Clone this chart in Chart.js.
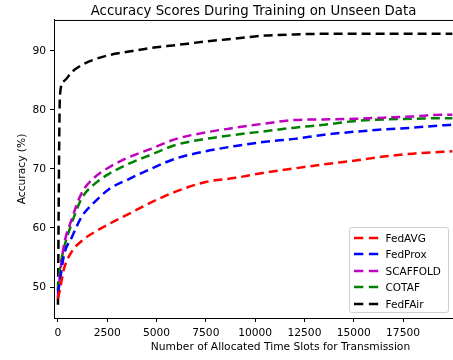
<!DOCTYPE html>
<html>
<head>
<meta charset="utf-8">
<script src="https://cdn.jsdelivr.net/npm/chart.js@4.4.1/dist/chart.umd.min.js"></script>
<style>
  html, body { margin: 0; padding: 0; background: #fff; overflow: hidden; }
  #wrap { position: relative; width: 507px; height: 360px; }
  #legend {
    position: absolute; box-sizing: border-box;
    background: rgba(255,255,255,0.8); border: 1px solid #d0d0d0; border-radius: 3px;
    font-family: "DejaVu Sans", sans-serif; font-size: 10.5px; color: #000;
    padding: 2px 4px 0 4px;
  }
  #legend .row { display: flex; align-items: center; height: 16.5px; white-space: nowrap; }
  #legend svg { margin-right: 7px; flex: none; }
</style>
</head>
<body>
<div id="wrap">
  <canvas id="c" width="507" height="360"></canvas>
  <div id="legend"></div>
</div>
<script>
// ---- data ----
const timeSlots = [0, 100, 300, 700, 1200, 1800, 2600, 3600, 4700, 6000, 7500, 9000, 10500, 12000, 13500, 15000, 16500, 18000, 19500, 20000];
const fedAvg   = [48.0, 49.5, 53.0, 56.0, 57.8, 59.2, 60.7, 62.4, 64.3, 66.2, 67.8, 68.5, 69.4, 70.1, 70.8, 71.4, 72.1, 72.6, 72.9, 73.0];
const fedProx  = [49.0, 51.0, 55.3, 58.4, 61.9, 64.2, 66.6, 68.3, 70.0, 71.8, 73.0, 73.9, 74.6, 75.1, 75.8, 76.3, 76.7, 77.0, 77.4, 77.5];
const scaffold = [48.5, 52.0, 57.0, 61.5, 65.9, 68.4, 70.3, 72.0, 73.4, 75.1, 76.2, 77.0, 77.7, 78.3, 78.4, 78.5, 78.7, 78.9, 79.2, 79.2];
const cotaf    = [49.5, 53.0, 56.5, 60.8, 65.0, 67.3, 69.2, 70.9, 72.4, 74.1, 75.1, 75.8, 76.4, 77.0, 77.5, 78.1, 78.4, 78.5, 78.6, 78.6];
const fedFair  = [47.0, 82.5, 84.9, 86.4, 87.6, 88.5, 89.3, 89.9, 90.5, 91.0, 91.6, 92.1, 92.6, 92.8, 92.9, 92.9, 92.9, 92.9, 92.9, 92.9];
const seriesNames = ["FedAVG", "FedProx", "SCAFFOLD", "COTAF", "FedFAir"];
const xTickValues = [0, 2500, 5000, 7500, 10000, 12500, 15000, 17500];
const yTickValues = [50, 60, 70, 80, 90];

const FONT = "'DejaVu Sans', sans-serif";
const colors = ["#ff0000", "#0000ff", "#bf00bf", "#008000", "#000000"];
const allSeries = [fedAvg, fedProx, scaffold, cotaf, fedFair];

const datasets = allSeries.map((vals, i) => ({
  label: seriesNames[i],
  data: vals.map((v, j) => ({ x: timeSlots[j], y: v })),
  borderColor: colors[i],
  backgroundColor: colors[i],
  borderWidth: 2.5,
  borderDash: [9, 5],
  pointRadius: 0,
  fill: false,
  cubicInterpolationMode: 'monotone'
}));

const topFrame = {
  id: 'topFrame',
  afterDraw(chart) {
    const { ctx, chartArea } = chart;
    ctx.save();
    ctx.strokeStyle = '#000';
    ctx.lineWidth = 1;
    ctx.beginPath();
    ctx.moveTo(chartArea.left, chartArea.top + 0.5);
    ctx.lineTo(chartArea.right, chartArea.top + 0.5);
    ctx.stroke();
    ctx.restore();
  }
};

const VISIBLE_RIGHT = 453;
const htmlLegend = {
  id: 'htmlLegend',
  afterRender(chart) {
    const el = document.getElementById('legend');
    if (!el.dataset.built) {
      chart.data.datasets.forEach(ds => {
        const row = document.createElement('div');
        row.className = 'row';
        row.innerHTML = '<svg width="25" height="6"><line x1="0" y1="3" x2="25" y2="3" stroke="' + ds.borderColor +
          '" stroke-width="2.5" stroke-dasharray="9.3 5.6"/></svg><span>' + ds.label + '</span>';
        el.appendChild(row);
      });
      el.dataset.built = '1';
    }
    const a = chart.chartArea;
    const w = 100, h = 86;
    el.style.width = w + 'px';
    el.style.height = h + 'px';
    el.style.left = (VISIBLE_RIGHT - 4.5 - w) + 'px';
    el.style.top = (a.bottom - 5.5 - h) + 'px';
  }
};

new Chart(document.getElementById('c'), {
  type: 'line',
  data: { datasets },
  options: {
    responsive: false,
    animation: false,
    events: [],
    layout: { padding: { left: 0, right: 0, top: 0, bottom: 0 } },
    plugins: {
      legend: { display: false },
      tooltip: { enabled: false },
      title: {
        display: true,
        text: 'Accuracy Scores During Training on Unseen Data',
        color: '#000',
        font: { family: FONT, size: 13.3, weight: 'normal' },
        padding: { top: 3.5, bottom: 0.5 }
      }
    },
    scales: {
      x: {
        type: 'linear',
        min: -200,
        max: 22770,
        afterBuildTicks: s => { s.ticks = xTickValues.map(v => ({ value: v })); },
        afterFit: s => { s.height = 42; },
        ticks: {
          color: '#000',
          font: { family: FONT, size: 10.7 },
          padding: 4.5,
          maxRotation: 0,
          autoSkip: false,
          callback: v => String(v)
        },
        grid: { drawOnChartArea: false, drawTicks: true, tickLength: 4, tickColor: '#000', tickWidth: 1 },
        border: { display: true, color: '#000', width: 1 },
        title: {
          display: true,
          text: 'Number of Allocated Time Slots for Transmission',
          color: '#000',
          font: { family: FONT, size: 10.7 },
          padding: { top: 1, bottom: 6 }
        }
      },
      y: {
        type: 'linear',
        min: 44.75,
        max: 95.25,
        afterBuildTicks: s => { s.ticks = yTickValues.map(v => ({ value: v })); },
        afterFit: s => { s.width = 54; },
        ticks: {
          color: '#000',
          font: { family: FONT, size: 10.7 },
          padding: 4,
          callback: v => String(v)
        },
        grid: { drawOnChartArea: false, drawTicks: true, tickLength: 4, tickColor: '#000', tickWidth: 1 },
        border: { display: true, color: '#000', width: 1 },
        title: {
          display: true,
          text: 'Accuracy (%)',
          color: '#000',
          font: { family: FONT, size: 10.7 },
          padding: { top: 16, bottom: 4 }
        }
      }
    }
  },
  plugins: [topFrame, htmlLegend]
});
</script>
</body>
</html>
